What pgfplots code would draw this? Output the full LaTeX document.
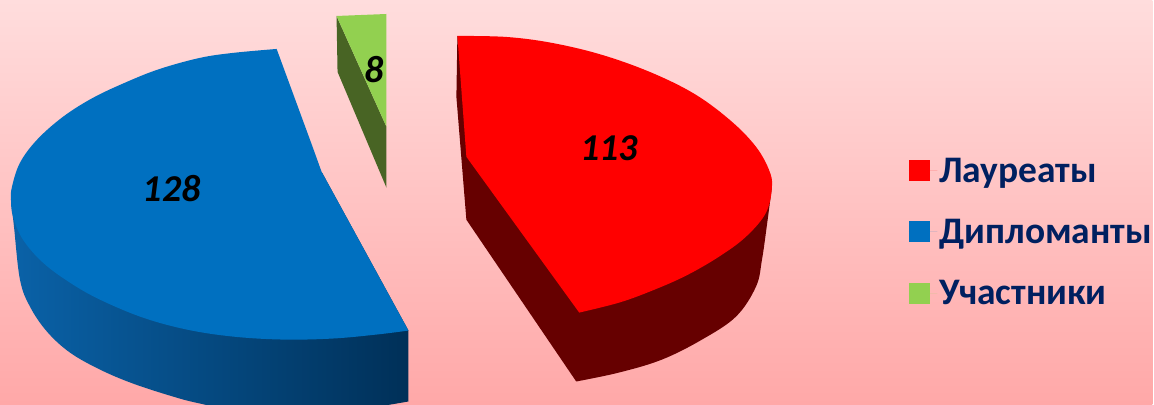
\documentclass[border=0pt]{standalone}
\usepackage{fontspec}
\setmainfont{Carlito}
\usepackage{pgfplots}
\pgfplotsset{compat=1.18}
\definecolor{bgT}{HTML}{FFDDDD}
\definecolor{bgM}{HTML}{FFC2C2}
\definecolor{bgB}{HTML}{FFA8A8}
\definecolor{cRed}{HTML}{FF0000}
\definecolor{cRedD}{HTML}{660000}
\definecolor{cBlue}{HTML}{0070C0}
\definecolor{cBlueL}{HTML}{0A62A8}
\definecolor{cBlueM}{HTML}{00508C}
\definecolor{cBlueD}{HTML}{003058}
\definecolor{cGreen}{HTML}{92D050}
\definecolor{cGreenD}{HTML}{486424}
\definecolor{cNavy}{HTML}{002060}
\begin{document}
\begin{tikzpicture}
\begin{axis}[
  scale only axis, width=1154pt, height=405pt,
  xmin=0, xmax=1154, ymin=0, ymax=405, y dir=reverse,
  axis lines=none, clip=true,
  legend style={at={(axis cs:910,156)}, anchor=north west, draw=none, fill=none,
    font=\fontsize{37.5}{40}\selectfont\bfseries, text=cNavy,
    row sep=31.5pt, inner sep=0pt, outer sep=0pt,
    cells={anchor=west}},
  legend image code/.code={\path (0pt,0pt) -- (28.5pt,0pt);\fill[#1,draw=none] (0pt,-10.5pt) rectangle (21pt,10.5pt);},
]
% background
\addplot[forget plot, draw=none, top color=bgT, middle color=bgM, bottom color=bgB]
  coordinates {(0,0) (1154,0) (1154,405) (0,405)} --cycle;
% red side
\addplot[forget plot, draw=none, fill=cRedD, smooth, tension=0.6] coordinates {
 (577,382) (620,373) (663,360) (703,340) (737,317) (757,287) (763,260) (768,225) (773,187)}
 -- (axis cs:458,36) -- (axis cs:457,97) -- (axis cs:467,220) -- cycle;
% red top
\addplot[draw=none, fill=cRed, smooth, tension=0.6] coordinates {
 (458,36) (507,37) (553,43) (603,55) (653,73) (697,95) (733,122) (757,147) (770,170) (773,187)
 (767,213) (747,237) (720,257) (687,276) (653,291) (620,303) (580,313)}
 -- (axis cs:467,157) -- cycle;
\addlegendentry{Лауреаты}
% blue side
\addplot[forget plot, draw=none, left color=cBlueL, middle color=cBlueM, right color=cBlueD, smooth, tension=0.6] coordinates {
 (11,200) (14,227) (20,280) (30,307) (47,332) (70,353) (100,370) (133,384) (173,397) (200,404) (260,416) (330,414) (409,402)}
 -- (axis cs:409,331) -- (axis cs:322,172) -- cycle;
% blue top
\addplot[draw=none, fill=cBlue, smooth, tension=0.6] coordinates {
 (277,49) (233,53) (200,58) (160,69) (127,82) (93,98) (63,117) (37,140) (20,163) (12,187) (11,200)
 (13,217) (23,240) (43,263) (70,283) (100,300) (143,318) (187,330) (233,337) (283,340) (333,339) (377,335) (409,331)}
 -- (axis cs:322,172) -- (axis cs:313,147) -- cycle;
\addlegendentry{Дипломанты}
% green side
\addplot[forget plot, draw=none, fill=cGreenD] coordinates {(337,16) (338,72) (387,188) (387,127)} --cycle;
% green top
\addplot[draw=none, fill=cGreen] coordinates {(337,16) (387,14) (387,127)} --cycle;
\addlegendentry{Участники}
\node[font=\fontsize{38}{40}\selectfont\bfseries\itshape] at (axis cs:172,189) {128};
\node[font=\fontsize{38}{40}\selectfont\bfseries\itshape] at (axis cs:610,148) {113};
\node[font=\fontsize{38}{40}\selectfont\bfseries\itshape] at (axis cs:375,70) {8};
\end{axis}
\end{tikzpicture}
\end{document}
